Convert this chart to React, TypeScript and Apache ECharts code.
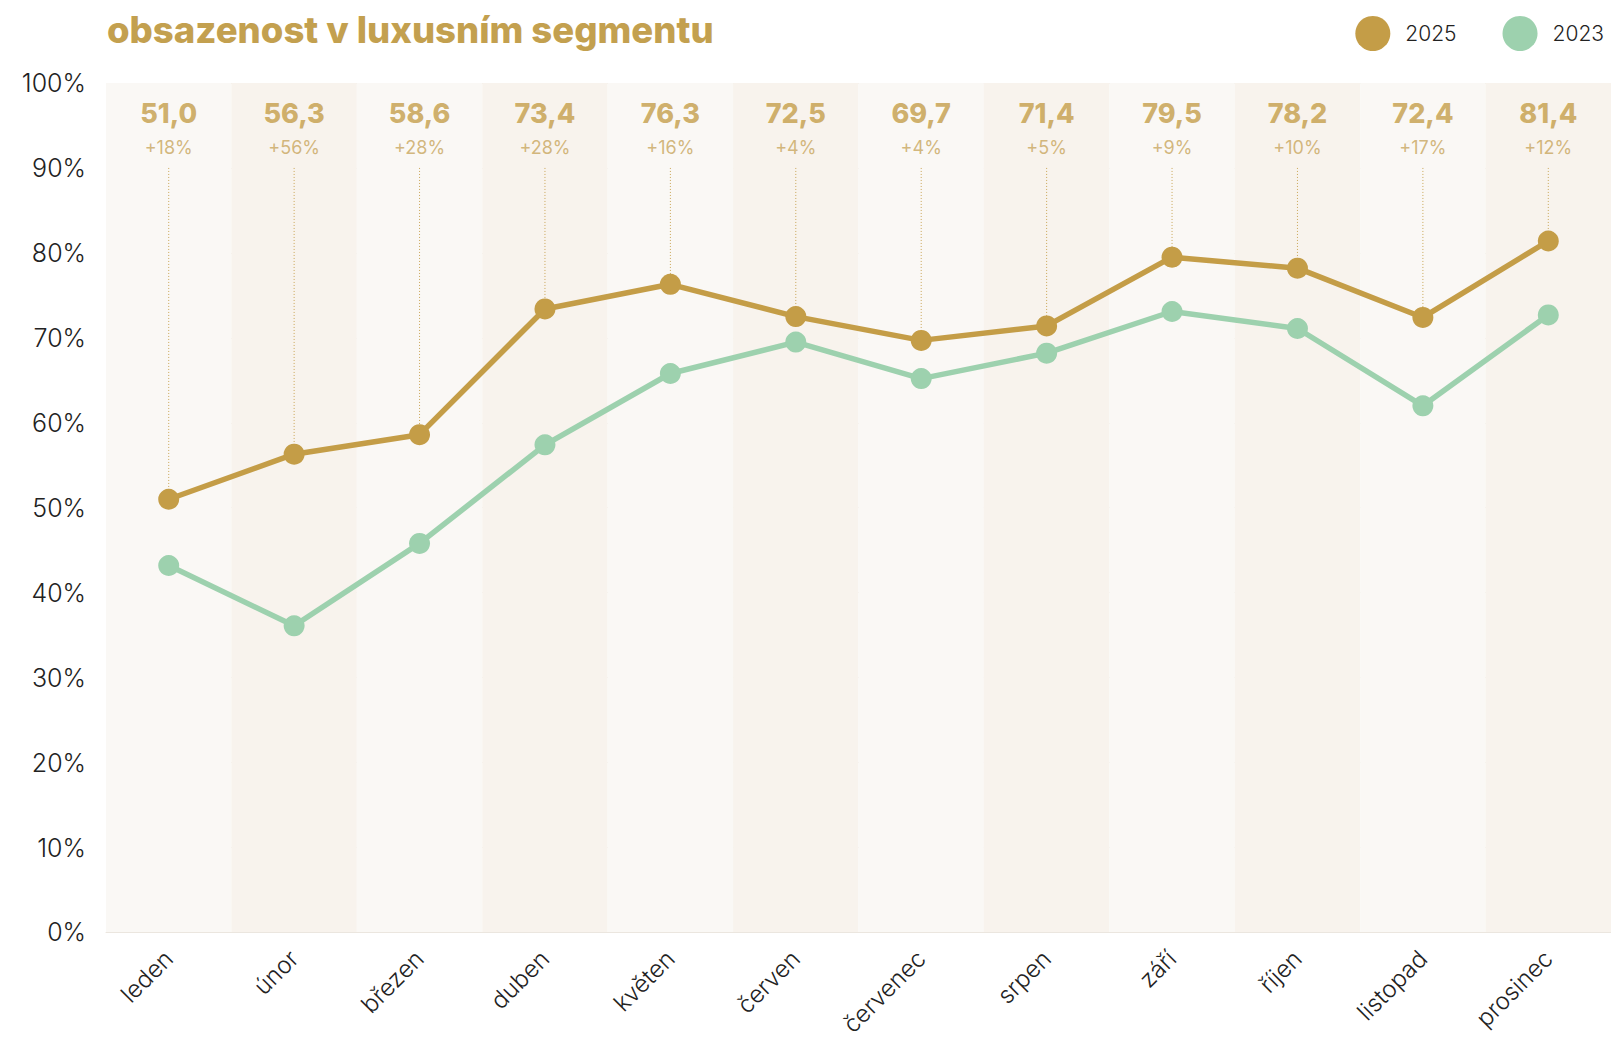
import React, { useEffect, useRef } from "react";
import * as echarts from "echarts";

const months = ["leden", "únor", "březen", "duben", "květen", "červen", "červenec", "srpen", "září", "říjen", "listopad", "prosinec"];
const values2025 = [51.0, 56.3, 58.6, 73.4, 76.3, 72.5, 69.7, 71.4, 79.5, 78.2, 72.4, 81.4];
const values2023 = [43.2, 36.1, 45.8, 57.4, 65.8, 69.5, 65.2, 68.2, 73.1, 71.1, 62.0, 72.7];
const changeLabels = ["+18%", "+56%", "+28%", "+28%", "+16%", "+4%", "+4%", "+5%", "+9%", "+10%", "+17%", "+12%"];

const GOLD = "#c49d47";
const GREEN = "#9dd1ae";
const FONT = "Inter, 'Noto Sans', sans-serif";

export default function App() {
  const ref = useRef<HTMLDivElement>(null);
  useEffect(() => {
    if (!ref.current) return;
    const chart = echarts.init(ref.current, null, { renderer: "svg" });
    chart.setOption({
      animation: false,
      backgroundColor: "#ffffff",
      textStyle: { fontFamily: FONT },
      title: {
        text: "obsazenost v luxusním segmentu",
        left: 102,
        top: 6,
        textStyle: { fontSize: 36.5, fontWeight: 800, color: "#c3a04f", fontFamily: FONT },
      },
      legend: {
        data: ["2025", "2023"],
        right: 2,
        top: 11,
        icon: "circle",
        itemWidth: 35,
        itemHeight: 35,
        itemGap: 46,
        textStyle: { fontSize: 21, fontWeight: 300, color: "#222", fontFamily: FONT, padding: [0, 0, 0, 10] },
      },
      grid: { left: 106, right: 0, top: 83, bottom: 106 },
      xAxis: {
        type: "category",
        data: months,
        boundaryGap: true,
        axisLine: { show: true, lineStyle: { color: "#ebe6df" } },
        axisTick: { show: false },
        axisLabel: { rotate: 45, fontSize: 24, fontWeight: 300, color: "#222", margin: 22, fontFamily: FONT },
        splitLine: { show: false },
        splitArea: { show: true, areaStyle: { color: ["#faf8f5", "#f8f3ed"] } },
      },
      yAxis: {
        type: "value",
        min: 0,
        max: 100,
        interval: 10,
        axisLine: { show: false },
        axisTick: { show: false },
        axisLabel: { formatter: "{value}%", fontSize: 25, fontWeight: 300, color: "#222", margin: 20, fontFamily: FONT },
        splitLine: { show: true, lineStyle: { color: "#ece7e0", width: 1 } },
      },
      series: [
        {
          type: "custom",
          name: "guides",
          z: 1,
          silent: true,
          data: values2025.map((v, i) => [i, v]),
          renderItem: (params: any, api: any) => {
            const x = api.value(0);
            const v = api.value(1);
            const top = api.coord([x, 90]);
            const bot = api.coord([x, v]);
            return {
              type: "line",
              shape: { x1: top[0], y1: top[1], x2: bot[0], y2: bot[1] },
              style: { stroke: GOLD, lineWidth: 1, lineDash: [1, 2], opacity: 0.9 },
            };
          },
        },
        {
          name: "2023",
          type: "line",
          data: values2023,
          z: 3,
          symbol: "circle",
          symbolSize: 21,
          lineStyle: { color: GREEN, width: 5.5 },
          itemStyle: { color: GREEN },
        },
        {
          name: "2025",
          type: "line",
          data: values2025,
          z: 4,
          symbol: "circle",
          symbolSize: 21,
          lineStyle: { color: GOLD, width: 5.5 },
          itemStyle: { color: GOLD },
        },
        {
          type: "scatter",
          name: "values",
          silent: true,
          symbolSize: 1,
          itemStyle: { color: "rgba(0,0,0,0)" },
          data: values2025.map((v, i) => [i, 96.4]),
          label: {
            show: true,
            position: "inside",
            formatter: (p: any) => values2025[p.dataIndex].toFixed(1).replace(".", ","),
            fontSize: 27,
            fontWeight: 800,
            color: GOLD,
            fontFamily: FONT,
          },
        },
        {
          type: "scatter",
          name: "changes",
          silent: true,
          symbolSize: 1,
          itemStyle: { color: "rgba(0,0,0,0)" },
          data: changeLabels.map((c, i) => [i, 92.4]),
          label: {
            show: true,
            position: "inside",
            formatter: (p: any) => changeLabels[p.dataIndex],
            fontSize: 18,
            fontWeight: 400,
            color: "#c8a65d",
            fontFamily: FONT,
          },
        },
      ],
    });
    return () => chart.dispose();
  }, []);
  return <div ref={ref} style={{ position: "fixed", left: 0, top: 0, width: 1611, height: 1039 }} />;
}
